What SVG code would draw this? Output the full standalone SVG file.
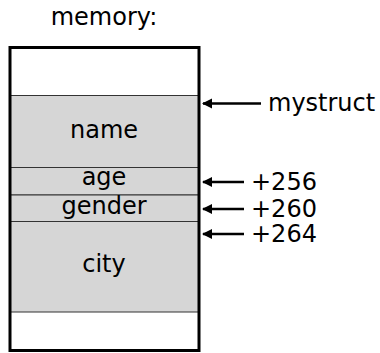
<svg xmlns="http://www.w3.org/2000/svg" width="380" height="353" viewBox="0 0 380 353">
<style>
text{font-family:"DejaVu Sans",sans-serif;font-size:24px;fill:#000}
.c{text-anchor:middle}
.f{fill:#d6d6d6;stroke:#333;stroke-width:1}
.a{stroke:#000;stroke-width:2.5;fill:none;marker-end:url(#ah)}
</style>
<defs>
<marker id="ah" markerUnits="userSpaceOnUse" markerWidth="12" markerHeight="12" refX="9" refY="5" orient="auto">
<path d="M0,0 L10,5 L0,10 Z" fill="#000"/>
</marker>
</defs>
<text class="c" x="104" y="25">memory:</text>
<g id="memory">
<rect x="10" y="47.5" width="189" height="303" fill="#fff" stroke="none"/>
<g id="name"><rect class="f" x="10" y="95.5" width="189" height="72"/><text class="c" x="104" y="138">name</text></g>
<g id="age"><rect class="f" x="10" y="167.5" width="189" height="27.5"/><text class="c" x="104" y="185">age</text></g>
<g id="gender"><rect class="f" x="10" y="195" width="189" height="26.5"/><text class="c" x="104" y="214">gender</text></g>
<g id="city"><rect class="f" x="10" y="221.5" width="189" height="90.5"/><text class="c" x="104" y="272">city</text></g>
<rect x="10" y="47.5" width="189" height="303" fill="none" stroke="#000" stroke-width="3"/>
</g>
<g id="connectors">
<line class="a" x1="261" y1="103.5" x2="203" y2="103.5"/>
<line class="a" x1="244" y1="182" x2="203" y2="182"/>
<line class="a" x1="244" y1="209" x2="203" y2="209"/>
<line class="a" x1="244" y1="234" x2="203" y2="234"/>
</g>
<g id="labels">
<text x="268" y="111">mystruct</text>
<text x="251" y="190">+256</text>
<text x="251" y="217">+260</text>
<text x="251" y="242">+264</text>
</g>
</svg>
